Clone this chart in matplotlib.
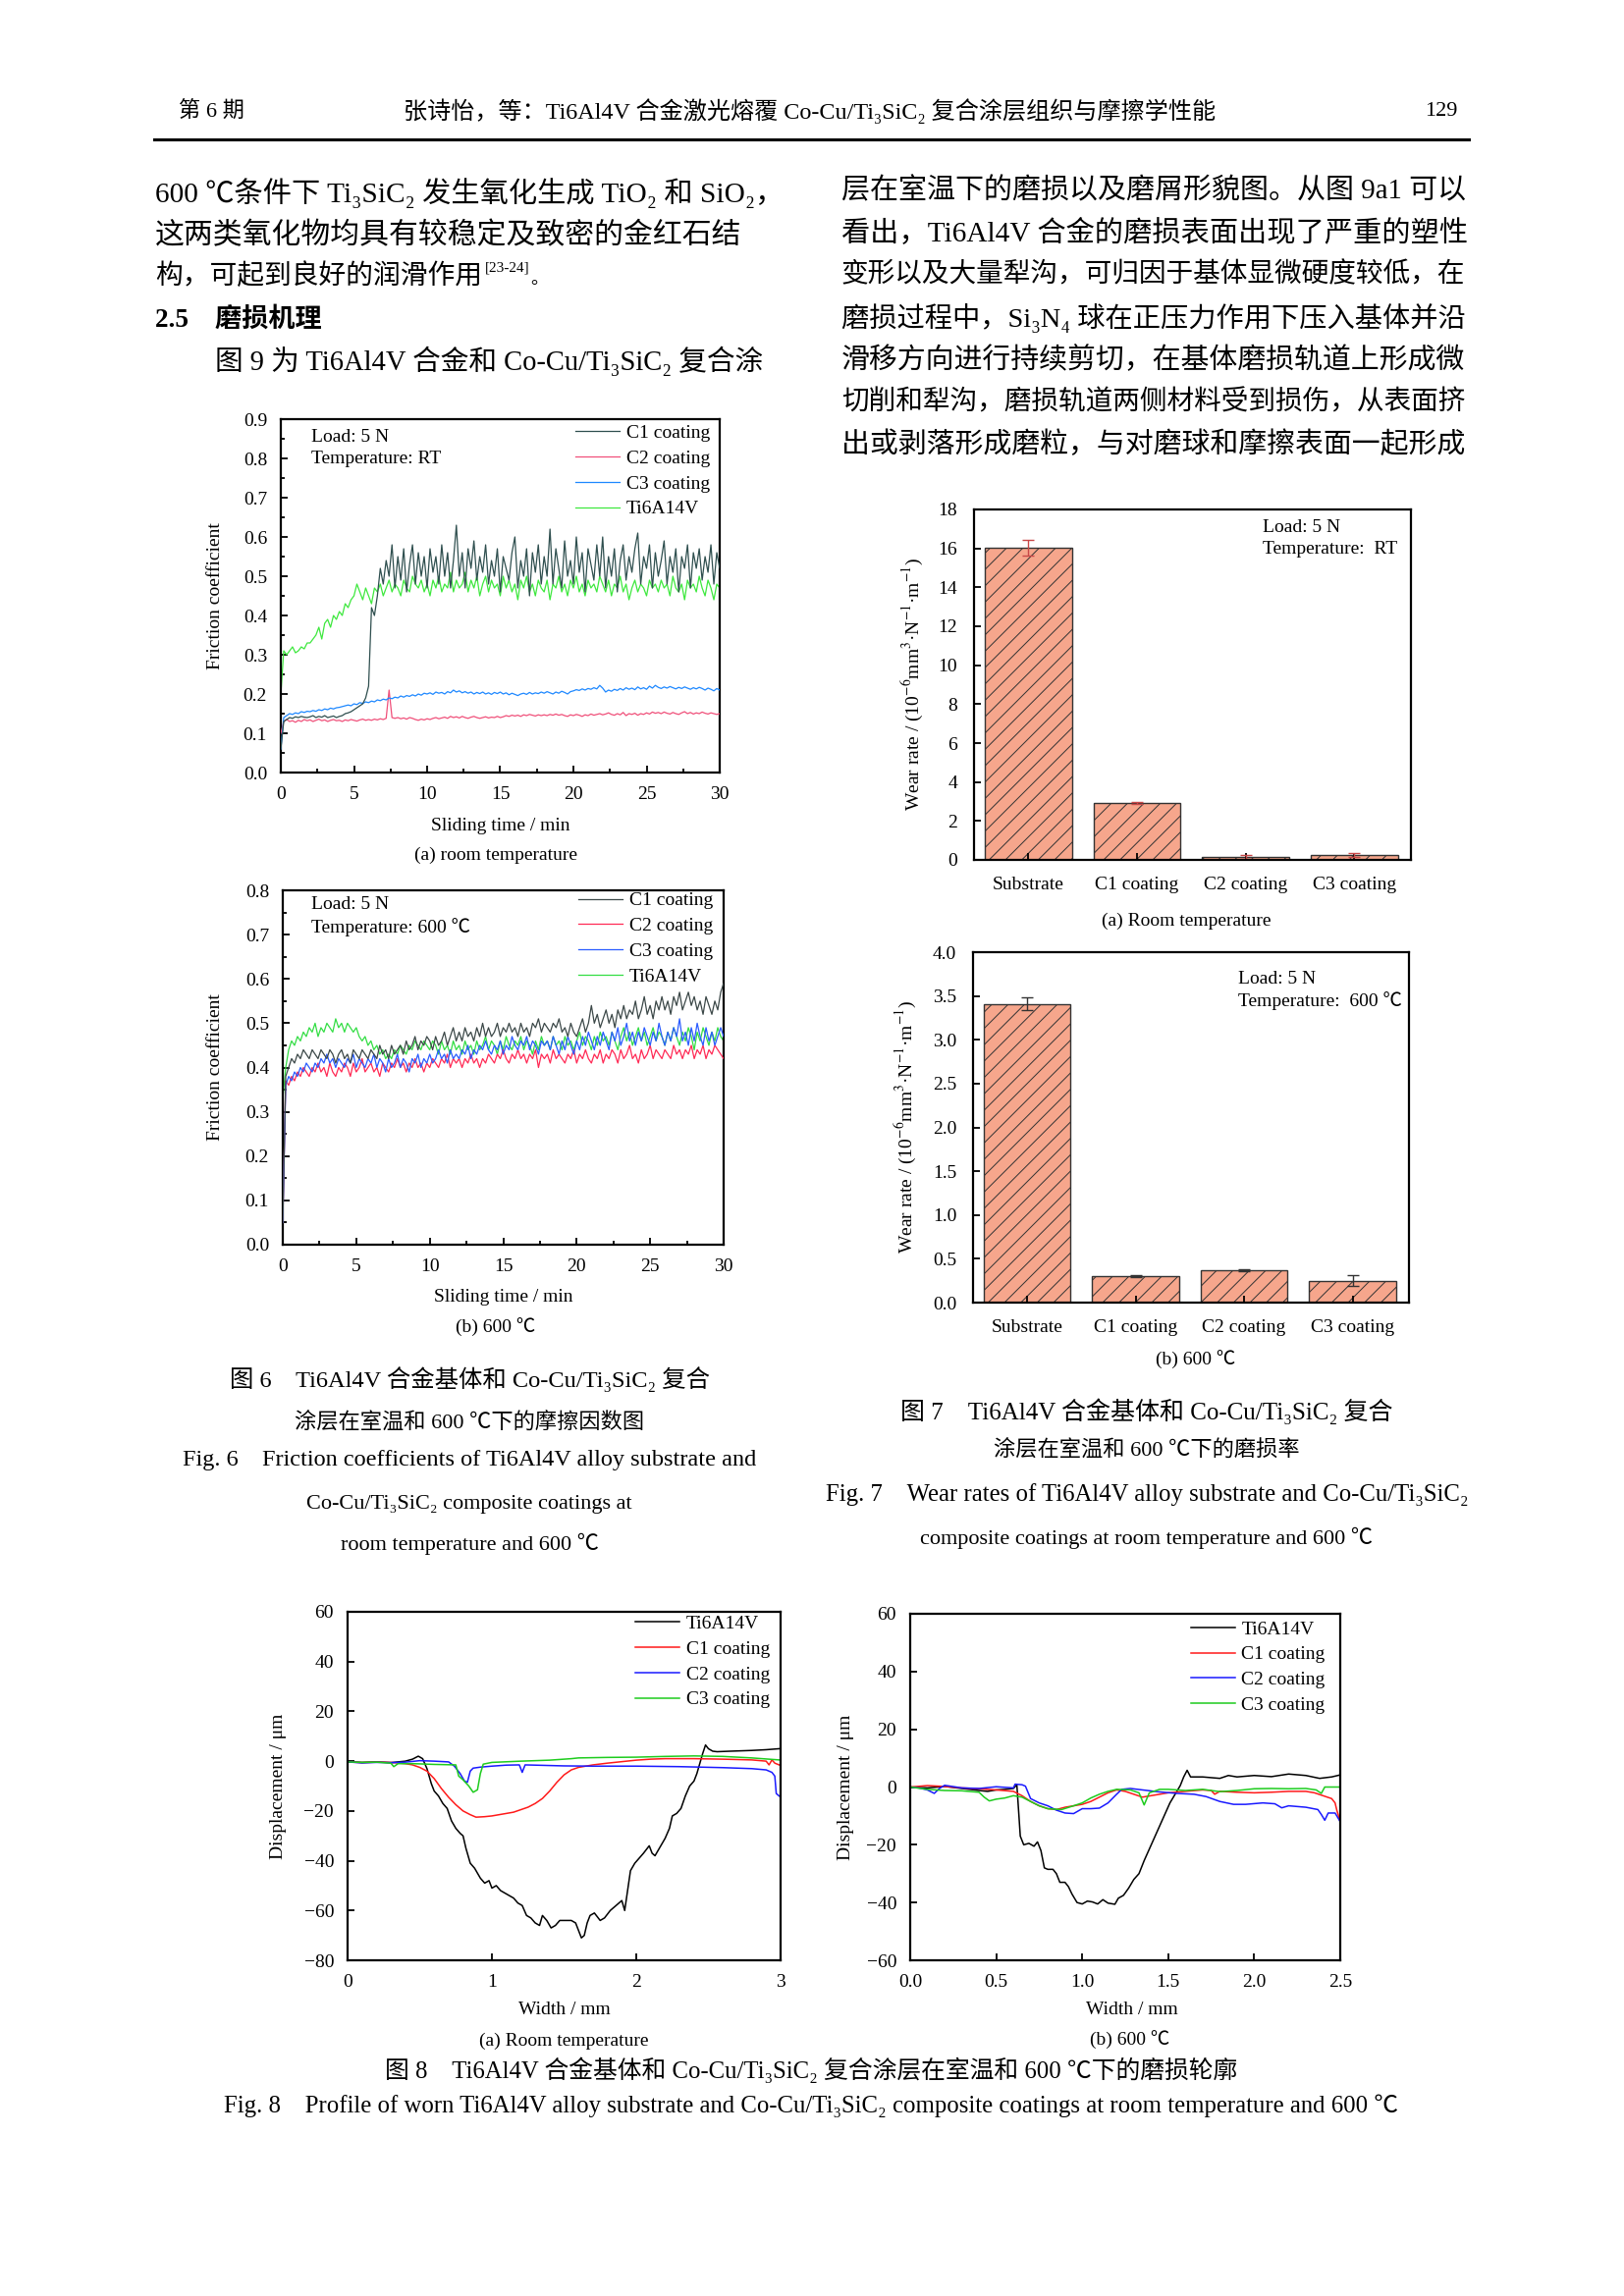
import matplotlib
matplotlib.use('Agg')
import matplotlib.pyplot as plt
import numpy as np
from matplotlib.ticker import MultipleLocator, FormatStrFormatter

# ---------------- data ----------------
# Fig. 6 friction coefficient, sampled every 0.2 min (0..30 min)
T_FRIC = np.linspace(0, 30, 151)

FR_RT_C1 = [0.06, 0.13, 0.135, 0.14, 0.138, 0.142, 0.14, 0.143, 0.141, 0.14,
            0.142, 0.145, 0.14, 0.143, 0.141, 0.145, 0.14, 0.142, 0.144, 0.14,
            0.143, 0.145, 0.15, 0.152, 0.155, 0.16, 0.165, 0.17, 0.175, 0.19,
            0.22, 0.42, 0.40, 0.45, 0.52, 0.48, 0.54, 0.50, 0.58, 0.47,
            0.55, 0.49, 0.57, 0.46, 0.53, 0.58, 0.48, 0.56, 0.50, 0.55,
            0.47, 0.57, 0.51, 0.55, 0.48, 0.58, 0.50, 0.56, 0.47, 0.54,
            0.63, 0.50, 0.56, 0.47, 0.57, 0.52, 0.59, 0.49, 0.55, 0.51,
            0.58, 0.48, 0.54, 0.50, 0.57, 0.46, 0.55, 0.52, 0.49, 0.56,
            0.60, 0.47, 0.54, 0.50, 0.57, 0.45, 0.56, 0.51, 0.58, 0.48,
            0.55, 0.50, 0.62, 0.48, 0.57, 0.52, 0.47, 0.59, 0.50, 0.54,
            0.48, 0.60, 0.51, 0.56, 0.46, 0.57, 0.53, 0.49, 0.58, 0.50,
            0.60, 0.47, 0.55, 0.50, 0.57, 0.46, 0.54, 0.58, 0.49, 0.55,
            0.51, 0.57, 0.61, 0.48, 0.55, 0.52, 0.58, 0.47, 0.56, 0.50,
            0.54, 0.59, 0.48, 0.55, 0.51, 0.57, 0.46, 0.55, 0.52, 0.58,
            0.47, 0.56, 0.52, 0.57, 0.49, 0.55, 0.51, 0.58, 0.48, 0.56,
            0.52]
FR_RT_C2 = [0.10, 0.13, 0.135, 0.13, 0.132, 0.128, 0.133, 0.13, 0.135, 0.132,
            0.134, 0.13, 0.133, 0.136, 0.132, 0.134, 0.13, 0.133, 0.135, 0.132,
            0.133, 0.13, 0.134, 0.132, 0.135, 0.133, 0.131, 0.134, 0.136, 0.133,
            0.135, 0.133, 0.136, 0.134, 0.137, 0.135, 0.138, 0.21, 0.14, 0.138,
            0.14, 0.137, 0.139, 0.136, 0.14, 0.138, 0.135, 0.133, 0.136, 0.134,
            0.137, 0.135, 0.138, 0.14, 0.137, 0.139, 0.141, 0.138, 0.143, 0.14,
            0.142, 0.139, 0.143, 0.14, 0.138, 0.141, 0.143, 0.14, 0.138, 0.14,
            0.142, 0.139, 0.141, 0.14, 0.143, 0.14, 0.142, 0.145, 0.143, 0.146,
            0.144, 0.146, 0.143, 0.147, 0.145, 0.148, 0.146, 0.144, 0.147, 0.145,
            0.147, 0.145, 0.148, 0.146, 0.149, 0.146, 0.148, 0.145, 0.143, 0.147,
            0.145, 0.148, 0.146, 0.143, 0.147, 0.145, 0.149, 0.146, 0.148, 0.15,
            0.147, 0.149, 0.152, 0.148, 0.146, 0.15, 0.147, 0.153, 0.145, 0.15,
            0.148, 0.151, 0.146, 0.15, 0.148, 0.152, 0.149, 0.154, 0.151, 0.153,
            0.15, 0.154, 0.151, 0.149, 0.153, 0.15, 0.148, 0.152, 0.155, 0.15,
            0.153, 0.149, 0.152, 0.15, 0.154, 0.151, 0.149, 0.152, 0.15, 0.148,
            0.15]
FR_RT_C3 = [0.06, 0.14, 0.145, 0.15, 0.148, 0.152, 0.15, 0.155, 0.153, 0.156,
            0.155, 0.158, 0.156, 0.16, 0.158, 0.162, 0.16, 0.164, 0.162, 0.165,
            0.166, 0.168, 0.17, 0.172, 0.17, 0.175, 0.173, 0.178, 0.176, 0.18,
            0.178, 0.182, 0.18, 0.185, 0.183, 0.187, 0.185, 0.19, 0.188, 0.192,
            0.19, 0.195, 0.192, 0.196, 0.194, 0.198, 0.195, 0.2, 0.197, 0.202,
            0.2, 0.203, 0.199, 0.205, 0.202, 0.204, 0.2, 0.206, 0.203, 0.21,
            0.205, 0.208, 0.203, 0.206, 0.202, 0.205, 0.2, 0.204, 0.201, 0.205,
            0.2, 0.203, 0.199, 0.204, 0.201, 0.205, 0.2, 0.203, 0.198, 0.202,
            0.199, 0.196, 0.2, 0.202, 0.199, 0.204, 0.2, 0.203, 0.201, 0.205,
            0.202, 0.206, 0.203, 0.2, 0.205, 0.202, 0.207, 0.204, 0.2, 0.206,
            0.208, 0.211, 0.209, 0.213, 0.21, 0.214, 0.212, 0.216, 0.213, 0.222,
            0.215, 0.205, 0.21, 0.207, 0.212, 0.209, 0.214, 0.21, 0.216, 0.212,
            0.215, 0.211, 0.218, 0.213, 0.216, 0.212, 0.22, 0.215, 0.222, 0.217,
            0.214, 0.218, 0.215, 0.219, 0.216, 0.213, 0.217, 0.214, 0.218, 0.215,
            0.212, 0.216, 0.213, 0.217, 0.214, 0.21, 0.215, 0.212, 0.208, 0.214,
            0.21]
FR_RT_TI = [0.20, 0.31, 0.30, 0.31, 0.32, 0.305, 0.31, 0.32, 0.315, 0.33,
            0.33, 0.34, 0.35, 0.37, 0.34, 0.38, 0.39, 0.37, 0.40, 0.39,
            0.41, 0.40, 0.43, 0.42, 0.44, 0.45, 0.48, 0.46, 0.44, 0.47,
            0.45, 0.43, 0.47, 0.46, 0.48, 0.45, 0.47, 0.49, 0.46, 0.48,
            0.47, 0.45, 0.49, 0.47, 0.46, 0.50, 0.48, 0.47, 0.49, 0.46,
            0.48, 0.45, 0.49, 0.47, 0.50, 0.46, 0.48, 0.47, 0.51, 0.46,
            0.49, 0.47, 0.48, 0.51, 0.46, 0.49, 0.47, 0.50, 0.45, 0.48,
            0.50, 0.46, 0.49, 0.47, 0.48, 0.45, 0.50, 0.47, 0.49, 0.46,
            0.48, 0.44, 0.49, 0.47, 0.50, 0.46, 0.48, 0.45, 0.49, 0.47,
            0.46, 0.49, 0.44, 0.48, 0.47, 0.50, 0.46, 0.48, 0.45, 0.49,
            0.47, 0.50, 0.46, 0.48, 0.45, 0.49, 0.47, 0.48, 0.46, 0.50,
            0.48, 0.46, 0.49, 0.45, 0.48, 0.47, 0.50, 0.46, 0.48, 0.44,
            0.47, 0.49, 0.46, 0.48, 0.47, 0.45, 0.49, 0.47, 0.48, 0.46,
            0.49, 0.47, 0.48, 0.45, 0.50, 0.47, 0.46, 0.48, 0.44, 0.49,
            0.47, 0.48, 0.46, 0.50, 0.47, 0.45, 0.49, 0.47, 0.44, 0.48,
            0.47]

FR_HT_C1 = [0.05, 0.38, 0.40, 0.42, 0.41, 0.43, 0.42, 0.44, 0.43, 0.42,
            0.44, 0.43, 0.42, 0.44, 0.43, 0.42, 0.44, 0.43, 0.41, 0.43,
            0.44, 0.42, 0.43, 0.41, 0.44, 0.43, 0.42, 0.44, 0.43, 0.42,
            0.44, 0.43, 0.42, 0.45, 0.43, 0.44, 0.42, 0.45, 0.43, 0.44,
            0.45, 0.43, 0.46, 0.44, 0.45, 0.47, 0.44, 0.46, 0.45, 0.47,
            0.46, 0.44, 0.47, 0.45, 0.46, 0.48, 0.45, 0.47, 0.49, 0.46,
            0.48, 0.46, 0.49, 0.47, 0.48, 0.46, 0.49, 0.47, 0.50, 0.47,
            0.49, 0.47, 0.48, 0.50, 0.47, 0.49, 0.48, 0.50, 0.48, 0.49,
            0.47, 0.50, 0.48, 0.49, 0.47, 0.50, 0.49, 0.51, 0.48, 0.50,
            0.49, 0.48, 0.50, 0.49, 0.51, 0.48, 0.49, 0.47, 0.50, 0.48,
            0.47, 0.49, 0.51, 0.48, 0.50, 0.54, 0.50, 0.52, 0.49, 0.51,
            0.53, 0.50, 0.52, 0.49, 0.53, 0.51, 0.54, 0.51, 0.53, 0.52,
            0.55, 0.51, 0.53, 0.56, 0.52, 0.54, 0.51, 0.55, 0.53, 0.56,
            0.53, 0.55, 0.52, 0.56, 0.54, 0.57, 0.53, 0.55, 0.57, 0.54,
            0.56, 0.53, 0.55, 0.52, 0.56, 0.54, 0.52, 0.55, 0.53, 0.57,
            0.59]
FR_HT_C2 = [0.05, 0.37, 0.36, 0.38, 0.37, 0.39, 0.38, 0.40, 0.39, 0.38,
            0.40, 0.39, 0.41, 0.39, 0.40, 0.38, 0.41, 0.39, 0.38, 0.40,
            0.39, 0.41, 0.40, 0.38, 0.41, 0.39, 0.40, 0.42, 0.39, 0.40,
            0.41, 0.39, 0.40, 0.38, 0.41, 0.40, 0.39, 0.41, 0.40, 0.42,
            0.40, 0.41, 0.39, 0.41, 0.40, 0.42, 0.40, 0.41, 0.39, 0.41,
            0.40, 0.42, 0.41, 0.40, 0.42, 0.41, 0.43, 0.40, 0.42, 0.41,
            0.42, 0.40, 0.42, 0.41, 0.43, 0.41, 0.42, 0.40, 0.42, 0.41,
            0.43, 0.42, 0.41, 0.43, 0.42, 0.44, 0.42, 0.41, 0.43, 0.42,
            0.44, 0.42, 0.43, 0.41, 0.43, 0.42, 0.44, 0.40, 0.43, 0.42,
            0.43, 0.41, 0.44, 0.42, 0.43, 0.42, 0.41, 0.43, 0.42, 0.44,
            0.41, 0.43, 0.42, 0.44, 0.42, 0.41, 0.43, 0.42, 0.44, 0.41,
            0.43, 0.42, 0.44, 0.43, 0.41, 0.44, 0.42, 0.43, 0.45, 0.42,
            0.43, 0.41, 0.44, 0.42, 0.43, 0.45, 0.42, 0.44, 0.43, 0.42,
            0.44, 0.43, 0.42, 0.45, 0.43, 0.44, 0.42, 0.44, 0.43, 0.45,
            0.42, 0.44, 0.43, 0.45, 0.42, 0.44, 0.43, 0.45, 0.44, 0.43,
            0.42]
FR_HT_C3 = [0.05, 0.36, 0.38, 0.37, 0.39, 0.38, 0.40, 0.39, 0.41, 0.40,
            0.39, 0.41, 0.40, 0.42, 0.41, 0.43, 0.41, 0.42, 0.40, 0.42,
            0.41, 0.40, 0.42, 0.41, 0.43, 0.40, 0.42, 0.41, 0.40, 0.42,
            0.41, 0.43, 0.40, 0.42, 0.41, 0.39, 0.42, 0.40, 0.41, 0.43,
            0.40, 0.42, 0.41, 0.39, 0.42, 0.41, 0.43, 0.40, 0.42, 0.41,
            0.43, 0.41, 0.42, 0.44, 0.42, 0.43, 0.41, 0.44, 0.42, 0.43,
            0.42, 0.44, 0.43, 0.45, 0.42, 0.44, 0.43, 0.45, 0.44, 0.46,
            0.44, 0.43, 0.45, 0.44, 0.46, 0.43, 0.45, 0.44, 0.47, 0.45,
            0.44, 0.46, 0.45, 0.47, 0.44, 0.46, 0.45, 0.43, 0.46, 0.45,
            0.46, 0.44, 0.47, 0.45, 0.43, 0.46, 0.44, 0.47, 0.45, 0.43,
            0.46, 0.44, 0.47, 0.45, 0.48, 0.46, 0.44, 0.47, 0.45, 0.48,
            0.46, 0.44, 0.48, 0.46, 0.49, 0.45, 0.47, 0.50, 0.46, 0.48,
            0.45, 0.48, 0.46, 0.49, 0.47, 0.45, 0.48, 0.46, 0.50, 0.47,
            0.45, 0.48, 0.46, 0.49, 0.47, 0.51, 0.46, 0.48, 0.45, 0.49,
            0.46, 0.50, 0.47, 0.45, 0.49, 0.46, 0.48, 0.45, 0.47, 0.49,
            0.47]
FR_HT_TI = [0.33, 0.40, 0.44, 0.46, 0.45, 0.47, 0.46, 0.48, 0.47, 0.49,
            0.48, 0.50, 0.47, 0.49, 0.48, 0.50, 0.49, 0.48, 0.51, 0.49,
            0.50, 0.48, 0.50, 0.49, 0.48, 0.49, 0.47, 0.46, 0.47, 0.45,
            0.46, 0.44, 0.45, 0.43, 0.44, 0.42, 0.43, 0.42, 0.44, 0.43,
            0.45, 0.44, 0.43, 0.45, 0.44, 0.46, 0.45, 0.44, 0.46, 0.45,
            0.44, 0.46, 0.45, 0.43, 0.46, 0.44, 0.45, 0.43, 0.46, 0.44,
            0.45, 0.43, 0.46, 0.44, 0.45, 0.43, 0.46, 0.44, 0.45, 0.47,
            0.44, 0.46, 0.45, 0.43, 0.46, 0.44, 0.47, 0.45, 0.44, 0.46,
            0.45, 0.47, 0.44, 0.46, 0.45, 0.43, 0.46, 0.44, 0.47, 0.45,
            0.46, 0.44, 0.47, 0.45, 0.46, 0.44, 0.47, 0.45, 0.46, 0.44,
            0.46, 0.48, 0.45, 0.47, 0.46, 0.44, 0.47, 0.45, 0.48, 0.46,
            0.47, 0.45, 0.48, 0.46, 0.44, 0.47, 0.49, 0.46, 0.48, 0.45,
            0.47, 0.49, 0.46, 0.48, 0.45, 0.47, 0.49, 0.46, 0.48, 0.47,
            0.45, 0.48, 0.46, 0.49, 0.47, 0.45, 0.48, 0.46, 0.49, 0.47,
            0.44, 0.48, 0.46, 0.49, 0.47, 0.45, 0.48, 0.46, 0.49, 0.47,
            0.46]

FRIC_LABELS = ['C1 coating', 'C2 coating', 'C3 coating', 'Ti6A14V']

# Fig. 7 wear rates
WEAR_CATS = ['Substrate', 'C1 coating', 'C2 coating', 'C3 coating']
WEAR_RT = [16.05, 2.9, 0.15, 0.25]
WEAR_RT_ERR = [0.4, 0.05, 0.1, 0.1]
WEAR_HT = [3.41, 0.30, 0.37, 0.25]
WEAR_HT_ERR = [0.07, 0.01, 0.01, 0.06]

# Fig. 8 wear-track profiles
PR_RT_TI_X = [0, 0.1, 0.2, 0.3, 0.4, 0.45, 0.49, 0.52, 0.55, 0.58, 0.6, 0.63, 0.66, 0.69, 0.72, 0.75,
              0.78, 0.8, 0.82, 0.85, 0.88, 0.92, 0.95, 0.98, 1.0, 1.03, 1.06, 1.09, 1.12, 1.15, 1.18,
              1.21, 1.24, 1.27, 1.3, 1.33, 1.35, 1.38, 1.41, 1.44, 1.47, 1.51, 1.55, 1.58, 1.6, 1.62,
              1.64, 1.66, 1.68, 1.71, 1.75, 1.78, 1.82, 1.86, 1.9, 1.92, 1.94, 1.96, 1.99, 2.02, 2.05,
              2.09, 2.11, 2.13, 2.16, 2.2, 2.23, 2.25, 2.28, 2.31, 2.34, 2.37, 2.4, 2.42, 2.44, 2.46,
              2.48, 2.5, 2.53, 2.56, 2.65, 2.8, 2.9, 2.99]
PR_RT_TI_Y = [-0.2, -0.5, -0.3, -0.6, 0.0, 0.8, 2.0, 1.0, -3, -9, -12, -14, -17, -19, -24, -27,
              -29, -30, -35, -41, -43, -47, -49, -48, -51, -50, -52, -53, -54, -55, -57,
              -58, -62, -63, -65, -66, -62, -64, -67, -66, -64, -64, -64, -65, -68, -71,
              -70, -65, -62, -61, -64, -63, -60, -58, -56, -60, -52, -44, -41, -39, -37,
              -34, -37, -38, -35, -31, -27, -22, -21, -19, -14, -10, -8, -5, -1, 3,
              6.5, 5, 4, 3.8, 4, 4.3, 4.6, 5.0]
PR_RT_C1_X = [0, 0.1, 0.2, 0.3, 0.4, 0.45, 0.5, 0.55, 0.6, 0.65, 0.7, 0.75, 0.8, 0.85, 0.89, 0.95,
              1.0, 1.05, 1.1, 1.15, 1.2, 1.25, 1.3, 1.35, 1.4, 1.45, 1.5, 1.55, 1.6, 1.7, 1.8, 1.9,
              2.0, 2.1, 2.2, 2.4, 2.6, 2.8, 2.9, 2.92, 2.94, 2.96, 2.99]
PR_RT_C1_Y = [-0.3, -0.6, -0.4, -0.5, -1.0, -1.5, -2.5, -4, -7, -11, -14.5, -17.5, -20, -21.5, -22.5, -22.3,
              -22, -21.5, -21, -20.5, -19.5, -18.5, -17, -15, -12, -8.5, -5.5, -3.5, -2.5, -1.5, -0.8, -0.2,
              0.4, 0.8, 1.0, 1.0, 0.8, 0.5, 0.0, -1.5, 0.5, -0.8, -1.5]
PR_RT_C2_X = [0, 0.1, 0.2, 0.3, 0.4, 0.5, 0.6, 0.7, 0.74, 0.78, 0.81, 0.83, 0.85, 0.87, 0.92, 1.0,
              1.1, 1.19, 1.21, 1.23, 1.3, 1.5, 1.7, 2.0, 2.3, 2.6, 2.8, 2.9, 2.94, 2.96, 2.97, 2.99]
PR_RT_C2_Y = [-0.3, -0.7, -0.5, -0.6, -0.4, 0.2, 0.0, -0.3, -2, -5, -8, -8.5, -4, -2.8, -2.4, -2,
              -1.6, -1.5, -4.5, -1.5, -1.6, -1.9, -2.0, -2.0, -2.2, -2.6, -3.0, -3.5, -4.5, -6, -13, -14]
PR_RT_C3_X = [0, 0.1, 0.2, 0.3, 0.32, 0.35, 0.45, 0.6, 0.75, 0.77, 0.8, 0.84, 0.87, 0.9, 0.92, 0.94,
              1.0, 1.2, 1.4, 1.55, 1.6, 1.8, 2.0, 2.2, 2.4, 2.6, 2.8, 2.99]
PR_RT_C3_Y = [-0.3, -0.5, -0.4, -0.8, -2.2, -1.0, -1.0, -1.3, -1.5, -6, -7.5, -10, -12.5, -11.5, -5, -1.2,
              -0.5, 0.0, 0.4, 1.0, 1.3, 1.5, 1.6, 1.9, 2.1, 1.9, 1.3, 0.5]

PR_HT_TI_X = [0, 0.1, 0.2, 0.3, 0.4, 0.45, 0.5, 0.55, 0.6, 0.62, 0.63, 0.64, 0.66, 0.69, 0.72, 0.74,
              0.76, 0.78, 0.8, 0.83, 0.85, 0.87, 0.9, 0.92, 0.94, 0.97, 1.0, 1.03, 1.06, 1.09, 1.12,
              1.15, 1.19, 1.21, 1.24, 1.27, 1.3, 1.33, 1.36, 1.39, 1.42, 1.45, 1.48, 1.51, 1.54, 1.57,
              1.59, 1.61, 1.63, 1.7, 1.8, 1.85, 1.9, 2.0, 2.1, 2.2, 2.3, 2.38, 2.45, 2.5]
PR_HT_TI_Y = [0, -0.3, 0.2, -0.5, -1.2, -1.5, -1.0, -0.8, -0.5, 0.8, -8, -17, -20, -19.5, -20.5, -19,
              -22, -28, -28.5, -28.5, -30, -33, -33, -34.5, -37, -40, -40.5, -39.5, -39.8, -40.5, -39,
              -40.2, -40.6, -38.5, -37.5, -35, -32, -30, -25.5, -21.5, -17.5, -13.5, -9.5, -5.5, -2.5, 0.5,
              3.5, 5.8, 3.5, 3.5, 3.0, 4.0, 3.5, 4.0, 3.6, 4.5, 4.0, 3.0, 3.5, 4.2]
PR_HT_C1_X = [0, 0.1, 0.2, 0.3, 0.4, 0.5, 0.6, 0.65, 0.7, 0.75, 0.8, 0.85, 0.9, 0.95, 1.0, 1.05,
              1.1, 1.15, 1.2, 1.25, 1.3, 1.35, 1.4, 1.5, 1.6, 1.7, 1.75, 1.77, 1.8, 1.9, 2.0, 2.1,
              2.2, 2.3, 2.35, 2.4, 2.45, 2.47, 2.48, 2.5]
PR_HT_C1_Y = [0, 0.5, 0.2, -0.3, -0.6, -1.0, -1.5, -3, -5, -6.5, -7.5, -7.8, -7.0, -6.5, -6.0, -5,
              -3.5, -2, -1, -1.5, -2.5, -3.5, -3.0, -2.0, -1.5, -1.0, -1.2, -2.5, -1.5, -1.8, -2.0, -1.8,
              -1.5, -1.5, -2.0, -3.0, -4.0, -5.5, -8, -12]
PR_HT_C2_X = [0, 0.05, 0.1, 0.14, 0.17, 0.2, 0.3, 0.4, 0.5, 0.6, 0.61, 0.65, 0.67, 0.7, 0.75, 0.8,
              0.85, 0.9, 0.95, 1.0, 1.05, 1.1, 1.15, 1.2, 1.23, 1.28, 1.35, 1.45, 1.55, 1.65, 1.72,
              1.8, 1.88, 1.95, 2.05, 2.12, 2.16, 2.2, 2.3, 2.37, 2.39, 2.41, 2.43, 2.47, 2.5]
PR_HT_C2_Y = [0, -0.3, -1.0, -2.2, -0.5, 0.6, -0.3, -0.5, 0.1, -0.3, 1.0, 0.8, 0.3, -4, -5.5, -6.5,
              -8, -9, -9.2, -7.5, -7.5, -7.3, -5.5, -2.5, -0.8, -0.5, -1.0, -1.7, -2.2, -2.5, -3.3,
              -5.0, -6.0, -6.0, -5.5, -5.8, -7.2, -6.5, -7.0, -7.8, -9.5, -11.5, -9.0, -9.0, -12]
PR_HT_C3_X = [0, 0.1, 0.2, 0.3, 0.4, 0.43, 0.46, 0.5, 0.55, 0.6, 0.65, 0.7, 0.75, 0.8, 0.88, 0.95,
              1.0, 1.05, 1.1, 1.15, 1.2, 1.28, 1.33, 1.36, 1.39, 1.45, 1.5, 1.6, 1.7, 1.8, 1.9, 2.0,
              2.1, 2.2, 2.3, 2.36, 2.39, 2.41, 2.5]
PR_HT_C3_Y = [0, -0.8, -1.2, -1.3, -1.8, -3.5, -4.8, -4.2, -3.8, -3.0, -3.5, -5.0, -6.5, -7.5, -7.8, -6.5,
              -5.5, -3.8, -2.5, -1.5, -0.8, -1.0, -2.0, -6.2, -2.0, -0.8, -0.8, -1.2, -0.8, -1.6, -1.2, -0.6,
              -0.5, -0.6, -0.5, -1.0, -2.2, 0.0, 0.0]
PROF_LABELS = ['Ti6A14V', 'C1 coating', 'C2 coating', 'C3 coating']

# ---------------- page text ----------------
HEADER_LEFT = '第 6 期'
HEADER_MID = '张诗怡，等：Ti6Al4V 合金激光熔覆 Co-Cu/Ti₃SiC₂ 复合涂层组织与摩擦学性能'
HEADER_RIGHT = '129'
LEFT_LINES = ['600 ℃条件下 Ti₃SiC₂ 发生氧化生成 TiO₂ 和 SiO₂，',
              '这两类氧化物均具有较稳定及致密的金红石结',
              '构，可起到良好的润滑作用']
HEADING = '2.5　磨损机理'
LEFT_LAST = '图 9 为 Ti6Al4V 合金和 Co-Cu/Ti₃SiC₂ 复合涂'
RIGHT_LINES = ['层在室温下的磨损以及磨屑形貌图。从图 9a1 可以',
               '看出，Ti6Al4V 合金的磨损表面出现了严重的塑性',
               '变形以及大量犁沟，可归因于基体显微硬度较低，在',
               '磨损过程中，Si₃N₄ 球在正压力作用下压入基体并沿',
               '滑移方向进行持续剪切，在基体磨损轨道上形成微',
               '切削和犁沟，磨损轨道两侧材料受到损伤，从表面挤',
               '出或剥落形成磨粒，与对磨球和摩擦表面一起形成']
CAP6 = ['图 6　Ti6Al4V 合金基体和 Co-Cu/Ti₃SiC₂ 复合',
        '涂层在室温和 600 ℃下的摩擦因数图',
        'Fig. 6　Friction coefficients of Ti6Al4V alloy substrate and',
        'Co-Cu/Ti₃SiC₂ composite coatings at',
        'room temperature and 600 ℃']
CAP7 = ['图 7　Ti6Al4V 合金基体和 Co-Cu/Ti₃SiC₂ 复合',
        '涂层在室温和 600 ℃下的磨损率',
        'Fig. 7　Wear rates of Ti6Al4V alloy substrate and Co-Cu/Ti₃SiC₂',
        'composite coatings at room temperature and 600 ℃']
CAP8 = ['图 8　Ti6Al4V 合金基体和 Co-Cu/Ti₃SiC₂ 复合涂层在室温和 600 ℃下的磨损轮廓',
        'Fig. 8　Profile of worn Ti6Al4V alloy substrate and Co-Cu/Ti₃SiC₂ composite coatings at room temperature and 600 ℃']

# ---------------- setup ----------------
W, H = 1654, 2339
SERIF = ['Liberation Serif', 'Noto Sans CJK SC', 'DejaVu Sans']
plt.rcParams['font.family'] = SERIF
plt.rcParams['mathtext.fontset'] = 'stix'
plt.rcParams['hatch.linewidth'] = 0.7
FS = 14

fig = plt.figure(figsize=(W / 100, H / 100), dpi=100)
fig.patch.set_facecolor('white')
renderer = fig.canvas.get_renderer()


def fx(px):
    return px / W


def fy(py):
    return 1 - py / H


def ptext(x, y, s, size, ha='left', va='center', weight='normal', fit=None, lo=None, hi=None):
    t = fig.text(fx(x), fy(y), s, fontsize=size, family=SERIF, ha=ha, va=va, weight=weight)
    if fit is not None:
        w = t.get_window_extent(renderer).width
        ns = size * fit / w
        if lo is not None:
            ns = max(lo, ns)
        if hi is not None:
            ns = min(hi, ns)
        t.set_fontsize(ns)
    return t


def add_axes(l, t, r, b):
    ax = fig.add_axes([fx(l), fy(b), (r - l) / W, (b - t) / H])
    for s in ax.spines.values():
        s.set_linewidth(1.6)
    ax.tick_params(which='both', direction='in', top=False, right=False,
                   labelsize=FS, pad=10, width=1.3)
    ax.tick_params(which='major', length=5)
    ax.tick_params(which='minor', length=3)
    return ax


def labels(ax, box, xlabel, xly, ylabel, ylx, xlc=None):
    l, t, r, b = box
    if xlabel:
        ax.set_xlabel(xlabel, fontsize=FS, va='center')
        xc = 0.5 if xlc is None else (xlc - l) / (r - l)
        ax.xaxis.set_label_coords(xc, (b - xly) / (b - t))
    ax.set_ylabel(ylabel, fontsize=FS, va='center')
    ax.yaxis.set_label_coords((ylx - l) / (r - l), 0.5)


def legend(ax, anchor):
    ax.legend(frameon=False, fontsize=FS, loc='upper right', bbox_to_anchor=anchor,
              borderpad=0, borderaxespad=0, handlelength=2.3, handletextpad=0.35,
              labelspacing=0.42)


# ---------------- header & body ----------------
ptext(182, 113, HEADER_LEFT, 16)
ptext(825, 113, HEADER_MID, 16, ha='center', fit=828)
ptext(1484, 113, HEADER_RIGHT, 16, ha='right')
fig.add_artist(plt.Line2D([fx(157), fx(1496)], [fy(142), fy(142)], color='black', lw=2.2))

BODY = 20
left_y = [197, 240, 282]
for i, s in enumerate(LEFT_LINES):
    if i < 2:
        t = ptext(158, left_y[i], s, BODY, fit=638, lo=19, hi=21.5)
    else:
        t = ptext(158, left_y[i], s, BODY)
bb = t.get_window_extent(renderer)
sup = ptext(bb.x1 + 3, left_y[2] - 9, '[23-24]', 11)
bb2 = sup.get_window_extent(renderer)
ptext(bb2.x1 + 1, left_y[2] + 2, '。', 13)
ptext(158, 326, HEADING, 19.5, weight='bold')
ptext(219, 368, LEFT_LAST, BODY, fit=560, lo=19, hi=21.5)

right_y = [195, 238, 280, 324, 367, 410, 453]
for s, y in zip(RIGHT_LINES, right_y):
    ptext(857, y, s, BODY, fit=636, lo=19, hi=21.5)

# ---------------- Fig 6a ----------------
box = (286, 427, 733, 787)
ax = add_axes(*box)
ax.plot(T_FRIC, FR_RT_C1, color='#2f4f4f', lw=0.9, zorder=4, label=FRIC_LABELS[0])
ax.plot(T_FRIC, FR_RT_C2, color='#f0507a', lw=0.9, zorder=3, label=FRIC_LABELS[1])
ax.plot(T_FRIC, FR_RT_C3, color='#1e88ff', lw=0.9, zorder=3, label=FRIC_LABELS[2])
ax.plot(T_FRIC, FR_RT_TI, color='#3ee83e', lw=0.9, zorder=2, label=FRIC_LABELS[3])
ax.set_xlim(0, 30)
ax.set_ylim(0, 0.9)
ax.xaxis.set_major_locator(MultipleLocator(5))
ax.xaxis.set_minor_locator(MultipleLocator(2.5))
ax.yaxis.set_major_locator(MultipleLocator(0.1))
ax.yaxis.set_minor_locator(MultipleLocator(0.05))
ax.yaxis.set_major_formatter(FormatStrFormatter('%.1f'))
labels(ax, box, 'Sliding time / min', 842, 'Friction coefficient', 219)
legend(ax, (0.978, 0.985))
ptext(317, 445, 'Load: 5 N', FS)
ptext(317, 468, 'Temperature: RT', FS)
ptext(505, 871, '(a) room temperature', FS, ha='center')

# ---------------- Fig 6b ----------------
box = (288, 907, 737, 1268)
ax = add_axes(*box)
ax.plot(T_FRIC, FR_HT_C1, color='#3c4848', lw=0.9, zorder=4, label=FRIC_LABELS[0])
ax.plot(T_FRIC, FR_HT_C2, color='#ff2a55', lw=0.9, zorder=3, label=FRIC_LABELS[1])
ax.plot(T_FRIC, FR_HT_C3, color='#2a5cff', lw=0.9, zorder=3, label=FRIC_LABELS[2])
ax.plot(T_FRIC, FR_HT_TI, color='#33dd44', lw=0.9, zorder=2, label=FRIC_LABELS[3])
ax.set_xlim(0, 30)
ax.set_ylim(0, 0.8)
ax.xaxis.set_major_locator(MultipleLocator(5))
ax.xaxis.set_minor_locator(MultipleLocator(2.5))
ax.yaxis.set_major_locator(MultipleLocator(0.1))
ax.yaxis.set_minor_locator(MultipleLocator(0.05))
ax.yaxis.set_major_formatter(FormatStrFormatter('%.1f'))
labels(ax, box, 'Sliding time / min', 1322, 'Friction coefficient', 219)
legend(ax, (0.975, 0.995))
ptext(317, 922, 'Load: 5 N', FS)
ptext(317, 945, 'Temperature: 600 ℃', FS)
ptext(505, 1352, '(b) 600 ℃', FS, ha='center')

# ---------------- Fig 7 ----------------
WEAR_YLABEL = r'Wear rate / (10$^{-6}$mm$^{3}$·N$^{-1}$·m$^{-1}$)'
xpos = np.arange(len(WEAR_CATS))

box = (992, 519, 1437, 876)
ax = add_axes(*box)
ax.bar(xpos, WEAR_RT, width=0.8, color='#f6a68c', edgecolor='#333333', hatch='//', lw=1.0)
ax.errorbar(xpos, WEAR_RT, yerr=WEAR_RT_ERR, fmt='none', ecolor='#c84848', elinewidth=1, capsize=4)
ax.set_xlim(-0.5, 3.52)
ax.set_ylim(0, 18)
ax.yaxis.set_major_locator(MultipleLocator(2))
ax.set_xticks(xpos)
ax.set_xticklabels(WEAR_CATS)
ax.tick_params(axis='both', pad=12)
labels(ax, box, None, None, WEAR_YLABEL, 929)
ptext(1286, 538, 'Load: 5 N', FS)
ptext(1286, 560, 'Temperature:  RT', FS)
ptext(1208, 938, '(a) Room temperature', FS, ha='center')

box = (991, 970, 1435, 1327)
ax = add_axes(*box)
ax.bar(xpos, WEAR_HT, width=0.8, color='#f6a68c', edgecolor='#333333', hatch='//', lw=1.0)
ax.errorbar(xpos, WEAR_HT, yerr=WEAR_HT_ERR, fmt='none', ecolor='#333333', elinewidth=1, capsize=4)
ax.set_xlim(-0.5, 3.52)
ax.set_ylim(0, 4.0)
ax.yaxis.set_major_locator(MultipleLocator(0.5))
ax.yaxis.set_major_formatter(FormatStrFormatter('%.1f'))
ax.set_xticks(xpos)
ax.set_xticklabels(WEAR_CATS)
ax.tick_params(axis='both', pad=12)
labels(ax, box, None, None, WEAR_YLABEL, 922)
ptext(1261, 998, 'Load: 5 N', FS)
ptext(1261, 1020, 'Temperature:  600 ℃', FS)
ptext(1218, 1385, '(b) 600 ℃', FS, ha='center')

# ---------------- Fig 8 ----------------
box = (354, 1642, 795, 1997)
ax = add_axes(*box)
ax.plot(PR_RT_TI_X, PR_RT_TI_Y, color='black', lw=1.1, label=PROF_LABELS[0])
ax.plot(PR_RT_C1_X, PR_RT_C1_Y, color='#ff1a1a', lw=1.1, label=PROF_LABELS[1])
ax.plot(PR_RT_C2_X, PR_RT_C2_Y, color='#1a1aff', lw=1.1, label=PROF_LABELS[2])
ax.plot(PR_RT_C3_X, PR_RT_C3_Y, color='#1ecc1e', lw=1.1, label=PROF_LABELS[3])
ax.set_xlim(0, 3)
ax.set_ylim(-80, 60)
ax.xaxis.set_major_locator(MultipleLocator(1))
ax.yaxis.set_major_locator(MultipleLocator(20))
labels(ax, box, 'Width / mm', 2047, 'Displacement / μm', 284, xlc=575)
legend(ax, (0.975, 0.99))
ptext(574, 2079, '(a) Room temperature', FS, ha='center')

box = (927, 1644, 1365, 1997)
ax = add_axes(*box)
ax.plot(PR_HT_TI_X, PR_HT_TI_Y, color='black', lw=1.1, label=PROF_LABELS[0])
ax.plot(PR_HT_C1_X, PR_HT_C1_Y, color='#ff1a1a', lw=1.1, label=PROF_LABELS[1])
ax.plot(PR_HT_C2_X, PR_HT_C2_Y, color='#1a1aff', lw=1.1, label=PROF_LABELS[2])
ax.plot(PR_HT_C3_X, PR_HT_C3_Y, color='#1ecc1e', lw=1.1, label=PROF_LABELS[3])
ax.set_xlim(0, 2.5)
ax.set_ylim(-60, 60)
ax.xaxis.set_major_locator(MultipleLocator(0.5))
ax.xaxis.set_major_formatter(FormatStrFormatter('%.1f'))
ax.yaxis.set_major_locator(MultipleLocator(20))
labels(ax, box, 'Width / mm', 2047, 'Displacement / μm', 862, xlc=1153)
legend(ax, (0.965, 0.98))
ptext(1151, 2078, '(b) 600 ℃', FS, ha='center')

# ---------------- captions ----------------
cap6_y = [1405, 1450, 1488, 1532, 1573]
cap6_w = [490, None, 585, None, None]
for s, y, w in zip(CAP6, cap6_y, cap6_w):
    if w:
        ptext(478, y, s, 16, ha='center', fit=w, lo=14, hi=18)
    else:
        ptext(478, y, s, 16, ha='center')
cap7_y = [1438, 1478, 1523, 1567]
cap7_w = [507, None, 655, None]
for s, y, w in zip(CAP7, cap7_y, cap7_w):
    if w:
        ptext(1168, y, s, 16, ha='center', fit=w, lo=14, hi=18)
    else:
        ptext(1168, y, s, 16, ha='center')
ptext(826, 2109, CAP8[0], 16, ha='center', fit=872, lo=14, hi=18)
ptext(826, 2145, CAP8[1], 16, ha='center', fit=1196, lo=14, hi=18)

fig.savefig('out.png', dpi=100, facecolor='white')
